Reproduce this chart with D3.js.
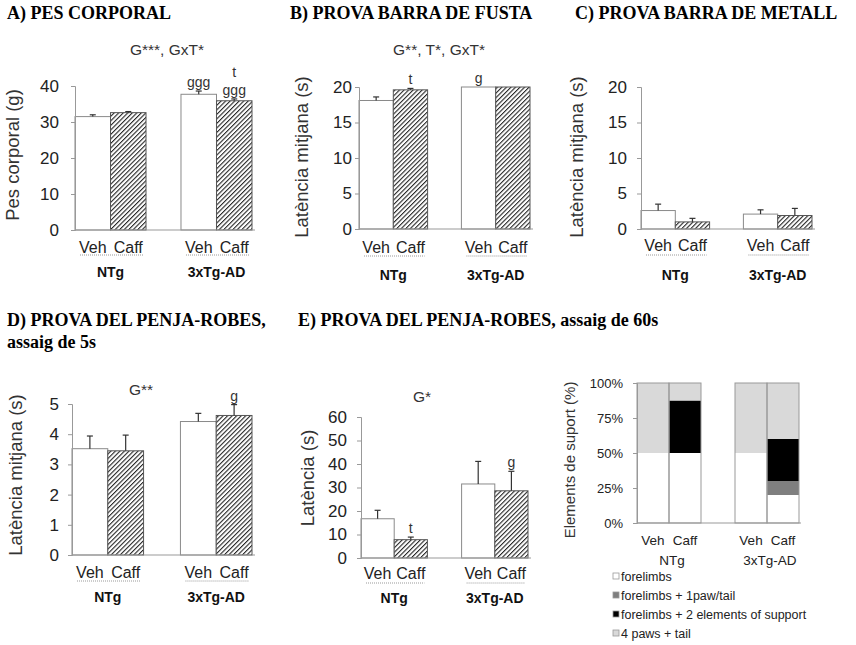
<!DOCTYPE html>
<html><head><meta charset="utf-8">
<script src="https://cdn.jsdelivr.net/npm/d3@7"></script>
<style>body{margin:0;background:#fff}svg{display:block}</style>
</head><body>
<svg id="c" width="856" height="645"></svg>
<script>
// ---------- DATA ----------
const groups = ["NTg", "3xTg-AD"];
const treatments = ["Veh", "Caff"];

// A) body weight (g): NTg-Veh, NTg-Caff, 3xTg-Veh, 3xTg-Caff
const pesMean = [31.5, 32.6, 37.7, 35.9];
const pesErr  = [0.5, 0.3, 0.9, 0.5];
const pesTicks = [0, 10, 20, 30, 40];

// B) wooden bar latency (s)
const fustaMean = [18.1, 19.6, 20, 20];
const fustaErr  = [0.5, 0.2, 0, 0];
const fustaTicks = [0, 5, 10, 15, 20];

// C) metal bar latency (s)
const metallMean = [2.6, 1.0, 2.1, 1.9];
const metallErr  = [0.9, 0.5, 0.6, 1.0];
const metallTicks = [0, 5, 10, 15, 20];

// D) coat-hanger 5 s trial (s)
const penja5Mean = [3.52, 3.45, 4.42, 4.62];
const penja5Err  = [0.42, 0.52, 0.27, 0.36];
const penja5Ticks = [0, 1, 2, 3, 4, 5];

// E) coat-hanger 60 s trial latency (s)
const penja60Mean = [16.7, 7.8, 31.5, 28.6];
const penja60Err  = [3.6, 1.1, 9.6, 8.3];
const penja60Ticks = [0, 10, 20, 30, 40, 50, 60];

// E) support elements (%) per bar: NTg-Veh, NTg-Caff, 3xTg-Veh, 3xTg-Caff
const supportCategories = ["forelimbs", "forelimbs + 1paw/tail", "forelimbs + 2 elements of support", "4 paws + tail"];
const supForelimbs = [50, 50, 50, 20];
const supOnePaw    = [0, 0, 0, 10];
const supTwoElem   = [0, 37.5, 0, 30];
const supFourPaws  = [50, 12.5, 50, 40];
const supportTicks = [0, 25, 50, 75, 100];

// stats / annotations
const statsA = "G***, GxT*";
const statsB = "G**, T*, GxT*";
const statsD = "G**";
const statsE = "G*";
const sigA = ["", "", "ggg", "t|ggg"];
const sigB = ["", "t", "g", ""];
const sigC = ["", "", "", ""];
const sigD = ["", "", "", "g"];
const sigE = ["", "t", "", "g"];

// ---------- DRAW ----------
const svg = d3.select("#c");
const SANS = "'Liberation Sans', Arial, sans-serif";
const SERIF = "'Liberation Serif', 'Times New Roman', serif";

const defs = svg.append("defs");
const pat = defs.append("pattern").attr("id", "hatch").attr("patternUnits", "userSpaceOnUse")
  .attr("width", 3.2).attr("height", 3.2).attr("patternTransform", "rotate(45)");
pat.append("rect").attr("width", 3.2).attr("height", 3.2).attr("fill", "#fff");
pat.append("line").attr("x1", 0).attr("y1", 0).attr("x2", 0).attr("y2", 3.2)
  .attr("stroke", "#262626").attr("stroke-width", 2.2);

// panel titles
function title(x, y, txt) {
  svg.append("text").attr("x", x).attr("y", y).attr("font-family", SERIF)
    .attr("font-weight", "bold").attr("font-size", 18).attr("fill", "#000").text(txt);
}
title(7, 19, "A) PES CORPORAL");
title(290, 19, "B) PROVA BARRA DE FUSTA");
title(575, 19, "C) PROVA BARRA DE METALL");
title(7, 326, "D) PROVA DEL PENJA-ROBES,");
title(7, 348, "assaig de 5s");
title(298, 326, "E) PROVA DEL PENJA-ROBES, assaig de 60s");

function barPanel(cfg, mean, err, ticks, sig, stats) {
  const g = svg.append("g");
  const y = d3.scaleLinear().domain([ticks[0], ticks[ticks.length - 1]]).range([cfg.yBot, cfg.yTop]);
  const xg = d3.scaleBand().domain(groups).range([cfg.x0, cfg.x1]).paddingInner(cfg.pad).paddingOuter(0);
  const xt = d3.scaleBand().domain(treatments).range([0, xg.bandwidth()]).padding(0);

  const data = [];
  groups.forEach((gr, gi) => treatments.forEach((tr, ti) => {
    const i = gi * 2 + ti;
    data.push({gr, tr, v: mean[i], e: err[i], s: sig[i], x: xg(gr) + xt(tr), w: xt.bandwidth()});
  }));

  // bars
  g.selectAll("rect.bar").data(data).join("rect")
    .attr("x", d => d.x).attr("width", d => d.w)
    .attr("y", d => y(d.v)).attr("height", d => y(0) - y(d.v))
    .attr("fill", d => d.tr === "Caff" ? "url(#hatch)" : "#fff")
    .attr("stroke", d => d.tr === "Caff" ? "#555" : "#8a8a8a").attr("stroke-width", 1);

  // error bars
  data.filter(d => d.e > 0).forEach(d => {
    const cx = d.x + d.w / 2;
    g.append("line").attr("x1", cx).attr("x2", cx).attr("y1", y(d.v)).attr("y2", y(d.v + d.e))
      .attr("stroke", "#333").attr("stroke-width", 1.2);
    g.append("line").attr("x1", cx - 3).attr("x2", cx + 3).attr("y1", y(d.v + d.e)).attr("y2", y(d.v + d.e))
      .attr("stroke", "#333").attr("stroke-width", 1.2);
  });

  // y axis
  const ax = g.append("g").attr("transform", `translate(${cfg.x0},0)`)
    .call(d3.axisLeft(y).tickValues(ticks).tickSize(4).tickPadding(cfg.tp).tickFormat(d3.format("d")));
  ax.select(".domain").attr("stroke", "#999");
  ax.selectAll(".tick line").attr("stroke", "#999");
  ax.selectAll("text").attr("font-family", SANS).attr("font-size", cfg.tf).attr("fill", "#222");

  // x axis line
  g.append("line").attr("x1", cfg.x0).attr("x2", cfg.x1 + 3).attr("y1", y(0)).attr("y2", y(0))
    .attr("stroke", "#999").attr("stroke-width", 1);

  // x labels
  g.selectAll("text.tr").data(data).join("text").attr("class", "tr")
    .attr("x", d => d.x + d.w / 2).attr("y", y(0) + cfg.lab).attr("text-anchor", "middle")
    .attr("font-family", SANS).attr("font-size", 16).attr("fill", "#222").text(d => d.tr);
  groups.forEach(gr => {
    const gx = xg(gr);
    g.append("line").attr("x1", gx + 5).attr("x2", gx + xg.bandwidth() - 3)
      .attr("y1", y(0) + cfg.dot).attr("y2", y(0) + cfg.dot)
      .attr("stroke", "#999").attr("stroke-width", 1).attr("stroke-dasharray", "1,1");
    g.append("text").attr("x", gx + xg.bandwidth() / 2).attr("y", y(0) + cfg.grp)
      .attr("text-anchor", "middle").attr("font-family", SANS).attr("font-weight", "bold")
      .attr("font-size", 14).attr("fill", "#111").text(gr);
  });

  // significance letters
  data.forEach(d => {
    if (!d.s) return;
    const parts = d.s.split("|");
    const top = y(d.v + d.e);
    parts.reverse().forEach((p, k) => {
      g.append("text").attr("x", d.x + d.w / 2).attr("y", top - 4 - k * 18)
        .attr("text-anchor", "middle").attr("font-family", SANS).attr("font-size", 14)
        .attr("fill", "#333").text(p);
    });
  });

  // stats text
  if (stats) {
    g.append("text").attr("x", cfg.sx).attr("y", cfg.sy).attr("text-anchor", "middle")
      .attr("font-family", SANS).attr("font-size", 15.5).attr("fill", "#333").text(stats);
  }

  // y title
  g.append("text").attr("transform", `translate(${cfg.tx},${cfg.ty}) rotate(-90)`)
    .attr("text-anchor", "middle").attr("font-family", SANS).attr("font-size", cfg.tsz)
    .attr("fill", "#333").text(cfg.title);
}

barPanel({x0: 75, x1: 252, pad: 0.33, yTop: 86, yBot: 230, tp: 12, tf: 17, lab: 23, dot: 25, grp: 47,
  sx: 167, sy: 55, tx: 19, ty: 155, tsz: 18.5, title: "Pes corporal (g)"},
  pesMean, pesErr, pesTicks, sigA, statsA);
barPanel({x0: 359, x1: 530, pad: 0.33, yTop: 87, yBot: 229, tp: 3, tf: 17, lab: 24, dot: 27, grp: 51,
  sx: 439, sy: 55, tx: 308, ty: 157, tsz: 18.5, title: "Latència mitjana (s)"},
  fustaMean, fustaErr, fustaTicks, sigB, statsB);
barPanel({x0: 641, x1: 812, pad: 0.33, yTop: 87, yBot: 229, tp: 10, tf: 17, lab: 22, dot: 26, grp: 51,
  tx: 583, ty: 157, tsz: 18.5, title: "Latència mitjana (s)"},
  metallMean, metallErr, metallTicks, sigC, null);
barPanel({x0: 72, x1: 252, pad: 0.34, yTop: 404, yBot: 555, tp: 9, tf: 17, lab: 23, dot: 26, grp: 47,
  sx: 141, sy: 395, tx: 22, ty: 475, tsz: 18.5, title: "Latència mitjana (s)"},
  penja5Mean, penja5Err, penja5Ticks, sigD, statsD);
barPanel({x0: 361, x1: 528, pad: 0.34, yTop: 417, yBot: 558, tp: 10, tf: 17, lab: 21, dot: 25, grp: 45,
  sx: 422, sy: 402, tx: 314, ty: 478, tsz: 18.5, title: "Latència (s)"},
  penja60Mean, penja60Err, penja60Ticks, sigE, statsE);

// ---------- stacked panel ----------
(function () {
  const g = svg.append("g");
  const x0 = 637, x1 = 799, yTop = 383, yBot = 523;
  const y = d3.scaleLinear().domain([0, 100]).range([yBot, yTop]);
  const xg = d3.scaleBand().domain(groups).range([x0, x1]).paddingInner(0.347).paddingOuter(0);
  const xt = d3.scaleBand().domain(treatments).range([0, xg.bandwidth()]).padding(0);
  const colors = ["#ffffff", "#7f7f7f", "#000000", "#d9d9d9"];
  const series = [supForelimbs, supOnePaw, supTwoElem, supFourPaws];

  const rows = [];
  groups.forEach((gr, gi) => treatments.forEach((tr, ti) => {
    const i = gi * 2 + ti;
    const row = {gr, tr, x: xg(gr) + xt(tr), w: xt.bandwidth()};
    supportCategories.forEach((c, k) => row[c] = series[k][i]);
    rows.push(row);
  }));
  const stacked = d3.stack().keys(supportCategories)(rows);
  stacked.forEach((layer, k) => {
    g.selectAll(null).data(layer).join("rect")
      .attr("x", d => d.data.x).attr("width", d => d.data.w)
      .attr("y", d => y(d[1])).attr("height", d => y(d[0]) - y(d[1]))
      .attr("fill", colors[k]);
  });
  rows.forEach(r => {
    g.append("rect").attr("x", r.x).attr("y", y(100)).attr("width", r.w).attr("height", y(0) - y(100))
      .attr("fill", "none").attr("stroke", "#999").attr("stroke-width", 1);
  });
  const ax = g.append("g").attr("transform", `translate(${x0},0)`)
    .call(d3.axisLeft(y).tickValues(supportTicks).tickSize(4).tickPadding(10).tickFormat(d => d + "%"));
  ax.select(".domain").attr("stroke", "#999");
  ax.selectAll(".tick line").attr("stroke", "#999");
  ax.selectAll("text").attr("font-family", SANS).attr("font-size", 13).attr("fill", "#222");
  g.append("line").attr("x1", x0).attr("x2", x1 + 2).attr("y1", yBot).attr("y2", yBot).attr("stroke", "#999");

  g.selectAll("text.tr").data(rows).join("text").attr("class", "tr")
    .attr("x", d => d.x + d.w / 2).attr("y", yBot + 22).attr("text-anchor", "middle")
    .attr("font-family", SANS).attr("font-size", 13.5).attr("fill", "#222").text(d => d.tr);
  groups.forEach(gr => {
    g.append("text").attr("x", xg(gr) + xg.bandwidth() / 2 + 3).attr("y", yBot + 42)
      .attr("text-anchor", "middle").attr("font-family", SANS).attr("font-size", 13.5)
      .attr("fill", "#222").text(gr);
  });
  g.append("text").attr("transform", `translate(575,460) rotate(-90)`)
    .attr("text-anchor", "middle").attr("font-family", SANS).attr("font-size", 15)
    .attr("fill", "#333").text("Elements de suport (%)");

  // legend
  const ly = [577, 596, 615, 634];
  supportCategories.forEach((c, k) => {
    g.append("rect").attr("x", 613).attr("y", ly[k] - 4).attr("width", 6).attr("height", 6)
      .attr("fill", colors[k]).attr("stroke", "#999").attr("stroke-width", 0.8);
    g.append("text").attr("x", 621).attr("y", ly[k] + 4).attr("font-family", SANS)
      .attr("font-size", 12.5).attr("fill", "#222").text(c);
  });
})();
</script>
</body></html>
